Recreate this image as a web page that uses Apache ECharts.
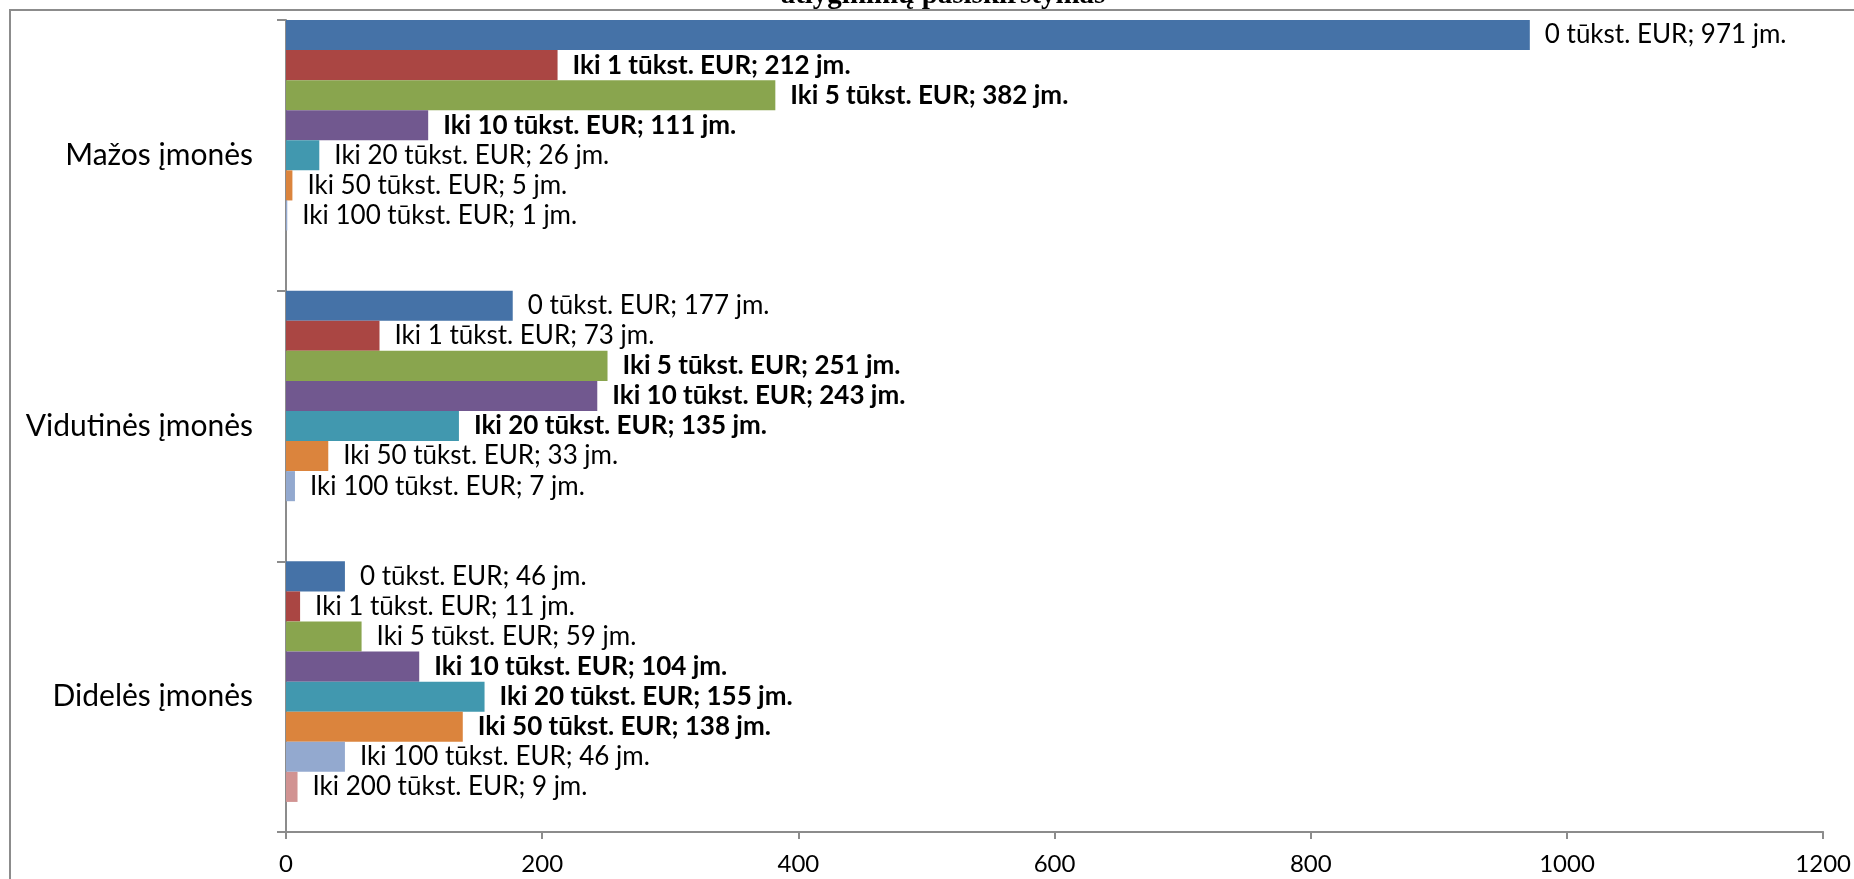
<!DOCTYPE html>
<html>
<head>
<meta charset="utf-8">
<script src="https://cdn.jsdelivr.net/npm/echarts@6/dist/echarts.min.js"></script>
<style>
html,body{margin:0;padding:0;background:#fff;}
#chart{width:1854px;height:879px;}
</style>
</head>
<body>
<div id="chart"></div>
<script>
// Categories (top to bottom)
const categories = ['Mažos įmonės', 'Vidutinės įmonės', 'Didelės įmonės'];
// Series (top to bottom within each group)
const seriesNames = ['0 tūkst. EUR', 'Iki 1 tūkst. EUR', 'Iki 5 tūkst. EUR', 'Iki 10 tūkst. EUR',
  'Iki 20 tūkst. EUR', 'Iki 50 tūkst. EUR', 'Iki 100 tūkst. EUR', 'Iki 200 tūkst. EUR'];
// Values per category, in series order (null = no bar)
const mazos = [971, 212, 382, 111, 26, 5, 1, null];
const vidutines = [177, 73, 251, 243, 135, 33, 7, null];
const dideles = [46, 11, 59, 104, 155, 138, 46, 9];
// Which labels are bold (series indices), per category
const boldMazos = [1, 2, 3];
const boldVidutines = [2, 3, 4];
const boldDideles = [3, 4, 5];
const xTicks = [0, 200, 400, 600, 800, 1000, 1200];
const colors = ['#4572A7', '#AA4643', '#89A54E', '#71588F', '#4198AF', '#DB843D', '#93A9CF', '#D19392'];

const byCategory = [mazos, vidutines, dideles];
const boldByCategory = [boldMazos, boldVidutines, boldDideles];
const FONT = 'Lato';

const series = seriesNames.map(function (name, si) {
  return {
    name: name,
    type: 'bar',
    barGap: '0%',
    barCategoryGap: '0%',
    itemStyle: { color: colors[si] },
    label: {
      show: true,
      position: 'right',
      distance: 15,
      color: '#000',
      fontFamily: FONT,
      fontSize: 26,
      formatter: function (p) { return p.seriesName + '; ' + p.value + ' jm.'; }
    },
    data: byCategory.map(function (arr, ci) {
      const v = arr[si];
      if (v === null) return null;
      return {
        value: v,
        label: { fontWeight: boldByCategory[ci].indexOf(si) >= 0 ? 'bold' : 'normal' }
      };
    })
  };
});
// empty slot at the bottom of each group (as in the original layout)
series.push({ name: '', type: 'bar', barGap: '0%', barCategoryGap: '0%', data: [null, null, null], silent: true });

const chart = echarts.init(document.getElementById('chart'), null, { renderer: 'canvas' });
chart.setOption({
  animation: false,
  backgroundColor: '#fff',
  graphic: [
    { type: 'rect', z: -10, shape: { x: 10, y: 10, width: 2000, height: 2000 },
      style: { fill: 'none', stroke: '#8c8c8c', lineWidth: 2 } },
    { type: 'text', x: 943, y: 10, style: { text: 'atlyginimų pasiskirstymas', textAlign: 'center', textVerticalAlign: 'bottom',
      font: 'bold 29px "Liberation Serif", serif', fill: '#000' } }
  ],
  grid: { left: 286, top: 20, right: 26, bottom: 47, containLabel: false },
  xAxis: {
    type: 'value', min: xTicks[0], max: xTicks[xTicks.length - 1], interval: 200,
    axisLine: { show: true, lineStyle: { color: '#8c8c8c', width: 2 } },
    axisTick: { show: true, length: 7, lineStyle: { color: '#8c8c8c', width: 2 } },
    splitLine: { show: false },
    axisLabel: { color: '#000', fontFamily: FONT, fontSize: 24, margin: 20,
      formatter: function (v) { return String(v); } }
  },
  yAxis: {
    type: 'category', data: categories, inverse: true,
    axisLine: { show: true, lineStyle: { color: '#8c8c8c', width: 2 } },
    axisTick: { show: true, length: 9, lineStyle: { color: '#8c8c8c', width: 2 } },
    axisLabel: { color: '#000', fontFamily: FONT, fontSize: 30, margin: 33 }
  },
  series: series
});
</script>
</body>
</html>
